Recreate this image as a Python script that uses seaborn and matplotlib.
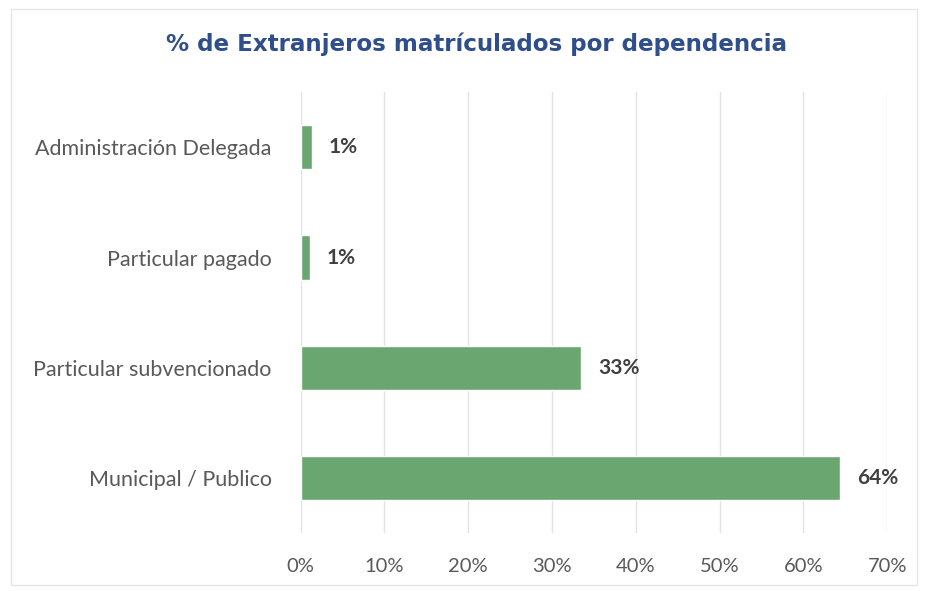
import matplotlib
matplotlib.use("Agg")
import matplotlib.pyplot as plt
import seaborn as sns
import pandas as pd
from matplotlib.ticker import PercentFormatter

categories = ["Administración Delegada", "Particular pagado",
              "Particular subvencionado", "Municipal / Publico"]
values = [1.4, 1.1, 33.5, 64.4]
labels = ["1%", "1%", "33%", "64%"]
xticks = [0, 10, 20, 30, 40, 50, 60, 70]

df = pd.DataFrame({"Dependencia": categories, "Porcentaje": values})

sns.set_theme(style="white")
plt.rcParams["font.family"] = ["Lato", "DejaVu Sans"]

fig = plt.figure(figsize=(9.28, 5.91), dpi=100)
ax = fig.add_axes([0.324, 0.098, 0.632, 0.746])

sns.barplot(data=df, x="Porcentaje", y="Dependencia", color="#6aa66f",
            width=0.4, saturation=1, ax=ax, zorder=3)

for i, (v, lab) in enumerate(zip(values, labels)):
    ax.annotate(lab, (v, i), xytext=(12, 0), textcoords="offset points",
                ha="left", va="center", fontsize=15, fontweight="bold",
                color="#404040")

ax.set_xlim(0, 70)
ax.set_xticks(xticks)
ax.xaxis.set_major_formatter(PercentFormatter(decimals=0))
ax.grid(axis="x", color="#e3e3e3", linewidth=1, zorder=0)
for s in ax.spines.values():
    s.set_visible(False)
ax.tick_params(axis="both", length=0, colors="#595959")
ax.tick_params(axis="x", labelsize=14.5, pad=18)
ax.tick_params(axis="y", labelsize=15.5, pad=21)
ax.set_xlabel("")
ax.set_ylabel("")

fig.text(0.514, 0.925, "% de Extranjeros matrículados por dependencia",
         ha="center", va="center", fontsize=16.6, fontweight="bold",
         color="#2f4e8c", family="DejaVu Sans")

fig.patches.append(plt.Rectangle((0.012, 0.01), 0.976, 0.975, transform=fig.transFigure,
                                 fill=False, edgecolor="#e6e6e6", linewidth=1))

fig.savefig("out.png", dpi=100)
